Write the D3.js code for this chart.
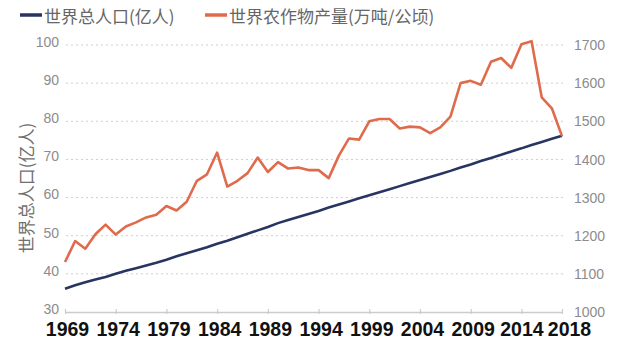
<!DOCTYPE html>
<html><head><meta charset="utf-8">
<script src="https://cdn.jsdelivr.net/npm/d3@7"></script>
<style>
html,body{margin:0;padding:0;background:#fff;}
text{font-family:"Noto Sans CJK SC","Noto Sans",sans-serif;}
.num text{font-family:"Liberation Sans",Arial,sans-serif;}
</style></head>
<body><svg id="c" width="627" height="344"></svg>
<script>
const years = d3.range(1969, 2019);
const population = [36.1,37.0,37.8,38.5,39.2,40.0,40.8,41.5,42.2,42.9,
  43.7,44.6,45.4,46.2,47.0,47.9,48.7,49.6,50.5,51.4,
  52.3,53.3,54.1,54.9,55.7,56.5,57.4,58.2,59.0,59.8,
  60.6,61.4,62.2,63.0,63.8,64.6,65.4,66.2,67.0,67.9,
  68.7,69.6,70.4,71.2,72.1,72.9,73.8,74.6,75.4,76.2];
const cropYield = [1131,1186,1166,1204,1229,1203,1224,1235,1248,1255,
  1278,1266,1289,1344,1361,1418,1329,1344,1364,1405,
  1367,1393,1376,1379,1372,1372,1351,1410,1455,1452,
  1500,1506,1506,1481,1486,1484,1469,1484,1512,1600,
  1606,1596,1656,1666,1640,1702,1710,1563,1534,1461];
const xTickYears = [1969,1974,1979,1984,1989,1994,1999,2004,2009,2014,2018];
const leftTicks = [30,40,50,60,70,80,90,100];
const rightTicks = [1000,1100,1200,1300,1400,1500,1600,1700];
const seriesNames = ["世界总人口(亿人)","世界农作物产量(万吨/公顷)"];
const yTitle = "世界总人口(亿人)";
const colors = ["#283562","#e06b4c"];

const L = 65, R = 562, T = 45, B = 312;
const svg = d3.select("#c");
const x = d3.scaleLinear().domain([1969, 2018]).range([L, R]);
const yL = d3.scaleLinear().domain([30, 100]).range([B, T]);
const yR = d3.scaleLinear().domain([1000, 1700]).range([B, T]);

// grid
svg.append("g").selectAll("line").data(leftTicks.filter(d => d > 30)).join("line")
  .attr("x1", L + 1).attr("x2", R + 1)
  .attr("y1", d => yL(d)).attr("y2", d => yL(d))
  .attr("stroke", "#cfcfcf").attr("stroke-width", 1).attr("stroke-dasharray", "2,3");

// left axis labels
const gl = svg.append("g").attr("class", "num").attr("transform", `translate(${L},0)`)
  .call(d3.axisLeft(yL).tickValues(leftTicks).tickFormat(d3.format("d")).tickSize(0).tickPadding(6));
gl.select(".domain").remove();
gl.selectAll("text").attr("fill", "#8c8c8c").attr("font-size", "14px").attr("dy", "0.1em");

// right axis labels
const gr = svg.append("g").attr("class", "num").attr("transform", `translate(${R},0)`)
  .call(d3.axisRight(yR).tickValues(rightTicks).tickFormat(d3.format("d")).tickSize(0).tickPadding(12));
gr.select(".domain").remove();
gr.selectAll("text").attr("fill", "#8c8c8c").attr("font-size", "14px").attr("dy", "0.33em");

// x axis
const gx = svg.append("g").attr("class", "num").attr("transform", `translate(0,${B})`)
  .call(d3.axisBottom(x).tickValues(xTickYears).tickFormat(d3.format("d")).tickSize(0).tickPadding(0));
gx.select(".domain").attr("stroke", "#cccccc").attr("stroke-width", 1.5);
gx.selectAll(".tick").append("line").attr("y1", -3).attr("y2", 2)
  .attr("stroke", "#cccccc").attr("stroke-width", 1.2);
gx.selectAll("text").attr("fill", "#111").attr("font-size", "19.5px").attr("font-weight", "bold")
  .attr("y", 24).attr("dy", "0")
  .attr("dx", d => d === 2018 ? 7 : (d === 2014 ? 0 : 2));

// lines
const popLine = d3.line().x((d, i) => x(years[i])).y(d => yL(d));
const yieldLine = d3.line().x((d, i) => x(years[i])).y(d => yR(d));
svg.append("path").datum(population).attr("d", popLine)
  .attr("fill", "none").attr("stroke", colors[0]).attr("stroke-width", 2.6);
svg.append("path").datum(cropYield).attr("d", yieldLine)
  .attr("fill", "none").attr("stroke", colors[1]).attr("stroke-width", 2.6)
  .attr("stroke-linejoin", "round");

// y title
svg.append("text").attr("transform", "translate(25,188) rotate(-90)")
  .attr("text-anchor", "middle").attr("dominant-baseline", "central")
  .attr("font-size", "17px").attr("fill", "#707070").text(yTitle);

// legend
const legX = [20, 205];
const lg = svg.append("g");
seriesNames.forEach((n, i) => {
  lg.append("line").attr("x1", legX[i]).attr("x2", legX[i] + 22).attr("y1", 15).attr("y2", 15)
    .attr("stroke", colors[i]).attr("stroke-width", 3.5);
  lg.append("text").attr("x", legX[i] + 24).attr("y", 15).attr("dominant-baseline", "central")
    .attr("font-size", "17px").attr("fill", "#666").text(n);
});
</script></body></html>
